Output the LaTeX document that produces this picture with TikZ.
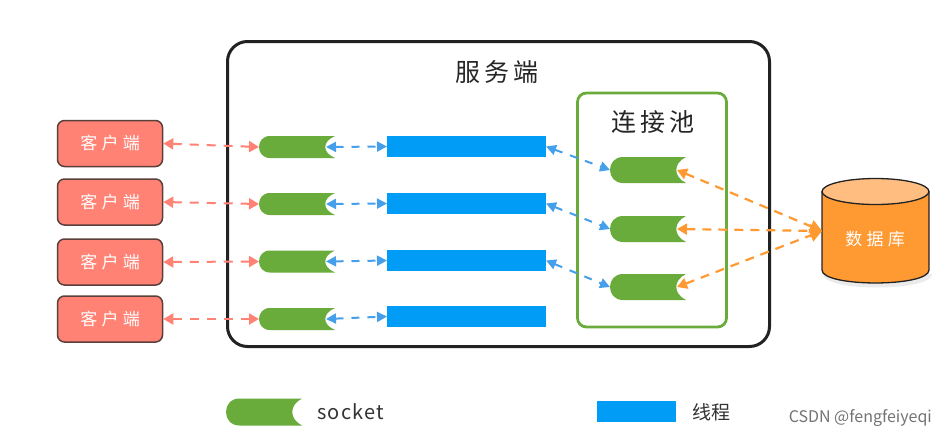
\documentclass[tikz,border=0pt]{standalone}
\usepackage{fontspec}
\setmainfont{Noto Sans CJK SC}
\usetikzlibrary{arrows.meta}
\definecolor{cpink}{HTML}{FF8274}
\definecolor{cgreen}{HTML}{69AC3C}
\definecolor{cblue}{HTML}{009CF5}
\definecolor{carrow}{HTML}{459FEA}
\definecolor{corange}{HTML}{FF9A33}
\definecolor{ctop}{HTML}{FFBE80}
\definecolor{cdark}{HTML}{222222}
\definecolor{cclient}{HTML}{5A3F3A}
\newcommand{\socketshape}[4]{%
  % name, x-left, y-center, half height
  \fill[cgreen] (#2+#4,#3-#4) -- (#2+76,#3-#4)
     .. controls (#2+63,#3-#4/2) and (#2+63,#3+#4/2) .. (#2+76,#3+#4)
     -- (#2+#4,#3+#4)
     .. controls (#2-#4/3,#3+#4) and (#2-#4/3,#3-#4) .. (#2+#4,#3-#4) -- cycle;
  \node[anchorbox,minimum width=76pt,minimum height=2*#4] (#1) at (#2+38,#3) {};
  \coordinate (#1n) at (#2+67,#3);
}
\newcommand{\spaced}[1]{\addfontfeature{LetterSpace=#1}}
\tikzset{
  anchorbox/.style={inner sep=0pt,outer sep=0pt},
  client/.style={draw=cclient,line width=1.5pt,fill=cpink,rounded corners=7pt,minimum width=105pt,minimum height=46pt,inner sep=0pt,text=white,font=\fontsize{17}{17}\selectfont\spaced{25}},
  thread/.style={fill=cblue,minimum width=159pt,minimum height=21pt,inner sep=0pt,outer sep=0pt},
  title/.style={inner sep=0pt,text=black!85,font=\fontsize{25}{25}\selectfont\spaced{16}},
  pinkline/.style={cpink,line width=2pt,dash pattern=on 9pt off 8pt,{Triangle[length=10pt,width=11pt]}-{Triangle[length=10pt,width=11pt]}},
  blueline/.style={carrow,line width=2pt,dash pattern=on 8pt off 8pt,{Triangle[length=10pt,width=10pt]}-{Triangle[length=10pt,width=10pt]}},
  orangeline/.style={corange,line width=2.2pt,dash pattern=on 9pt off 7pt,{Triangle[length=10pt,width=11pt]}-{Triangle[length=12pt,width=13pt]}},
}
\begin{document}
\begin{tikzpicture}[x=1pt,y=-1pt]
\useasboundingbox (0,0) rectangle (946,437);
\fill[white] (0,0) rectangle (946,437);
% server
\node[draw=cdark,line width=3pt,rounded corners=20pt,minimum width=542pt,minimum height=305pt,inner sep=0pt] (server) at (498.5,194) {};
\node[title] (servert) at (497,72) {服务端};
% pool
\node[draw=cgreen,line width=2.8pt,rounded corners=9pt,minimum width=149pt,minimum height=234pt,inner sep=0pt] (pool) at (652,210) {};
\node[title] (poolt) at (653,122) {连接池};
% clients
\node[client] (c1) at (110,143.5) {客户端};
\node[client] (c2) at (110,202) {客户端};
\node[client] (c3) at (110,262) {客户端};
\node[client] (c4) at (110,319) {客户端};
% sockets
\socketshape{s1}{259}{147}{11}
\socketshape{s2}{259}{204}{11}
\socketshape{s3}{259}{261.5}{11}
\socketshape{s4}{259}{319}{11}
% threads
\node[thread] (t1) at (466.5,146.5) {};
\node[thread] (t2) at (466.5,203.5) {};
\node[thread] (t3) at (466.5,260.5) {};
\node[thread] (t4) at (466.5,316.5) {};
% pool sockets
\socketshape{p1}{610}{170}{13}
\socketshape{p2}{610}{229}{13}
\socketshape{p3}{610}{287}{13}
% database
\fill[black!8] (823,274) .. controls (823,292) and (932,292) .. (932,274) -- cycle;
\filldraw[fill=corange,draw=cdark,line width=1.3pt] (822,192) -- (822,270) .. controls (822,287.3) and (929,287.3) .. (929,270) -- (929,192) -- cycle;
\filldraw[fill=ctop,draw=cdark,line width=1.3pt] (875.5,191.5) ellipse[x radius=53.5,y radius=13];
\node[anchorbox,minimum width=107pt,minimum height=106pt] (db) at (875.5,231) {};
\node[inner sep=0pt,text=white,font=\fontsize{17}{17}\selectfont\spaced{25}] (dbt) at (875,239) {数据库};
% connectors
\draw[pinkline] (c1.east) -- (s1.west);
\draw[pinkline] (c2.east) -- (s2.west);
\draw[pinkline] (c3.east) -- (s3.west);
\draw[pinkline] (c4.east) -- (s4.west);
\draw[blueline] (s1n) -- (t1.west);
\draw[blueline] (s2n) -- (t2.west);
\draw[blueline] (s3n) -- (t3.west);
\draw[blueline] (s4n) -- (t4.west);
\draw[blueline] (t1.east) -- (p1.west);
\draw[blueline] (t2.east) -- (p2.west);
\draw[blueline] (t3.east) -- (p3.west);
\draw[orangeline] (p1n) -- (db.west);
\draw[orangeline] (p2n) -- (db.west);
\draw[orangeline] (p3n) -- (db.west);
% legend
\socketshape{ls}{226}{412}{13.5}
\node[inner sep=0pt,anchor=west,text=black!80,font=\fontsize{20}{20}\selectfont\spaced{6}] (lst) at (317,412) {socket};
\node[fill=cblue,minimum width=79pt,minimum height=21pt,inner sep=0pt] (lt) at (636.5,411.5) {};
\node[inner sep=0pt,anchor=west,text=black!80,font=\fontsize{19}{19}\selectfont] (ltt) at (692,412) {线程};
\node[inner sep=0pt,anchor=east,text=black!55,font=\fontsize{16}{16}\selectfont] (wm) at (932,418) {CSDN @fengfeiyeqi};
\end{tikzpicture}
\end{document}
